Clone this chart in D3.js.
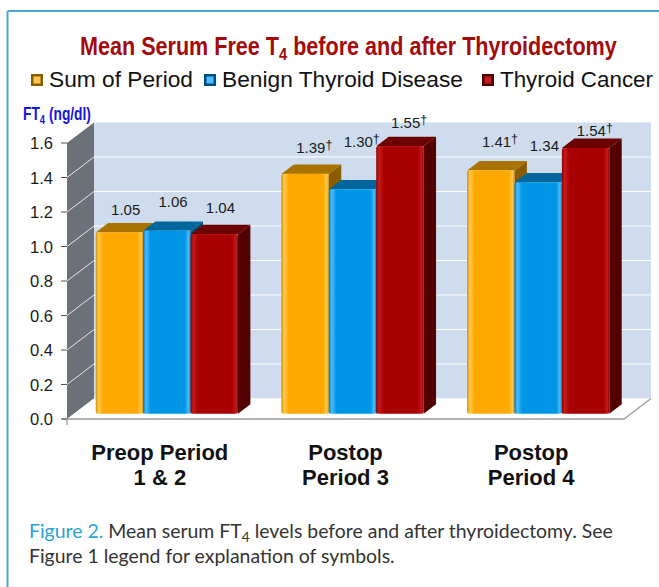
<!DOCTYPE html>
<html>
<head>
<meta charset="utf-8">
<script src="https://cdn.jsdelivr.net/npm/d3@7"></script>
<style>
  html, body { margin: 0; padding: 0; background: #ffffff; }
  svg { display: block; }
</style>
</head>
<body>
<script>
// ---------------- data ----------------
const categories = ["Preop Period|1 & 2", "Postop|Period 3", "Postop|Period 4"];
const seriesNames = ["Sum of Period", "Benign Thyroid Disease", "Thyroid Cancer"];
const sumOfPeriod = [1.05, 1.39, 1.41];
const benignThyroid = [1.06, 1.30, 1.34];
const thyroidCancer = [1.04, 1.55, 1.54];
const sumMarks = ["", "†", "†"];
const benignMarks = ["", "†", ""];
const cancerMarks = ["", "†", "†"];
const yTickValues = [0, 0.2, 0.4, 0.6, 0.8, 1.0, 1.2, 1.4, 1.6];
const yTickLabels = ["0.0", "0.2", "0.4", "0.6", "0.8", "1.0", "1.2", "1.4", "1.6"];

// layout-only: vertical gap between bar top and its value label [category][series]
const labelGap = [[8, 14, 12], [11, 33, 9], [14, 22, 3]];

const W = 659, H = 587;
const svg = d3.select("body").append("svg").attr("width", W).attr("height", H);

const seriesValues = [sumOfPeriod, benignThyroid, thyroidCancer];
const seriesMarks = [sumMarks, benignMarks, cancerMarks];
const palette = [
  {light: "#ffc94d", base: "#ffa800", dark: "#d88e00", top: "#a87300", side: "#8a5c00"},
  {light: "#4cbcff", base: "#0095e5", dark: "#0078bd", top: "#00669b", side: "#004f7a"},
  {light: "#c81a1a", base: "#a80000", dark: "#8a0000", top: "#6c0000", side: "#520000"}
];

// frame
svg.append("line").attr("x1", 7.5).attr("x2", 7.5).attr("y1", 11).attr("y2", H)
  .attr("stroke", "#49a7d8").attr("stroke-width", 2);
svg.append("line").attr("x1", 7.5).attr("x2", W).attr("y1", 11).attr("y2", 11)
  .attr("stroke", "#49a7d8").attr("stroke-width", 2);

// gradients
const defs = svg.append("defs");
palette.forEach((p, i) => {
  const g = defs.append("linearGradient").attr("id", "front" + i)
    .attr("x1", 0).attr("x2", 1).attr("y1", 0).attr("y2", 0);
  g.append("stop").attr("offset", "0%").attr("stop-color", p.dark);
  g.append("stop").attr("offset", "6%").attr("stop-color", p.light);
  g.append("stop").attr("offset", "16%").attr("stop-color", p.base);
  g.append("stop").attr("offset", "88%").attr("stop-color", p.base);
  g.append("stop").attr("offset", "96%").attr("stop-color", p.light);
  g.append("stop").attr("offset", "100%").attr("stop-color", p.dark);
});

// ---------------- scales ----------------
const DX = 27, DY = -20.5;           // wall depth projection
const zFront = 0.26, zBack = 0.72;   // bar depth slot
const x = d3.scaleBand().domain(categories).range([67, 624]).paddingInner(0.234).paddingOuter(0.117);
const xs = d3.scaleBand().domain(seriesNames).range([0, x.bandwidth()]);
const y = d3.scaleLinear().domain([0, 1.6]).range([419, 143]);

const backL = 67 + DX, backR = 624 + DX;

// back wall
svg.append("rect")
  .attr("x", backL).attr("y", y(1.6) + DY)
  .attr("width", backR - backL).attr("height", y(0) - y(1.6))
  .attr("fill", "#cfdcee");

// left side wall
svg.append("path")
  .attr("d", `M67,${y(1.6)} L${backL},${y(1.6) + DY} L${backL},${y(0) + DY} L67,${y(0)} Z`)
  .attr("fill", "#6b7079");

// gridlines
const inner = yTickValues.filter(v => v > 0 && v < 1.6);
svg.append("g").selectAll("line").data(inner).join("line")
  .attr("x1", backL).attr("x2", backR)
  .attr("y1", d => y(d) + DY).attr("y2", d => y(d) + DY)
  .attr("stroke", "#ffffff").attr("stroke-width", 1.2);
svg.append("g").selectAll("line").data(inner).join("line")
  .attr("x1", 67).attr("x2", backL)
  .attr("y1", d => y(d)).attr("y2", d => y(d) + DY)
  .attr("stroke", "#e8e8e8").attr("stroke-width", 1);

// floor
svg.append("path")
  .attr("d", `M67,${y(0)} L${backL},${y(0) + DY} L${backR},${y(0) + DY} L624,${y(0)} Z`)
  .attr("fill", "#ffffff");
svg.append("path")
  .attr("d", `M62,${y(0)} L624,${y(0)} L${backR},${y(0) + DY}`)
  .attr("fill", "none").attr("stroke", "#9a9a9a").attr("stroke-width", 1.3);
svg.append("line").attr("x1", 67).attr("x2", 67).attr("y1", y(0)).attr("y2", y(0) + 6)
  .attr("stroke", "#9a9a9a").attr("stroke-width", 1.3);

// y ticks and labels
const yAxis = svg.append("g");
yAxis.selectAll("line").data(yTickValues).join("line")
  .attr("x1", 61).attr("x2", 67)
  .attr("y1", d => y(d)).attr("y2", d => y(d))
  .attr("stroke", "#555").attr("stroke-width", 1);
yAxis.selectAll("text").data(yTickValues).join("text")
  .attr("x", 53).attr("y", d => y(d) + 6)
  .attr("text-anchor", "end")
  .attr("font-family", "Liberation Sans, Arial, sans-serif")
  .attr("font-size", 16.5).attr("fill", "#1a1a1a")
  .text((d, i) => yTickLabels[i]);

// ---------------- bars ----------------
const ddx = DX * (zBack - zFront), ddy = DY * (zBack - zFront);
const barsG = svg.append("g");
const labelsG = svg.append("g");
categories.forEach((c, ci) => {
  seriesNames.forEach((s, si) => {
    const v = seriesValues[si][ci];
    const p = palette[si];
    const xl = x(c) + xs(s) + DX * zFront;
    const w = xs.bandwidth();
    const xr = xl + w;
    const yt = y(v) + DY * zFront;
    const yb = y(0) + DY * zFront;
    const g = barsG.append("g");
    // side face
    g.append("path")
      .attr("d", `M${xr},${yt} L${xr + ddx},${yt + ddy} L${xr + ddx},${yb + ddy} L${xr},${yb} Z`)
      .attr("fill", p.side);
    // top face
    g.append("path")
      .attr("d", `M${xl},${yt} L${xr},${yt} L${xr + ddx},${yt + ddy} L${xl + ddx},${yt + ddy} Z`)
      .attr("fill", p.top);
    g.append("line")
      .attr("x1", xl + 2).attr("x2", xr - 1).attr("y1", yt + 0.5).attr("y2", yt + 0.5)
      .attr("stroke", p.light).attr("stroke-width", 1.2);
    // front face
    g.append("rect")
      .attr("x", xl).attr("y", yt).attr("width", w).attr("height", yb - yt)
      .attr("rx", 2).attr("fill", `url(#front${si})`);
    // value label
    const t = labelsG.append("text")
      .attr("x", xl + w / 2 + ddx / 2 + (seriesMarks[si][ci] ? 3 : 0))
      .attr("y", yt + ddy - labelGap[ci][si])
      .attr("text-anchor", "middle")
      .attr("font-family", "Liberation Sans, Arial, sans-serif")
      .attr("font-size", 15).attr("fill", "#1a1a1a");
    t.append("tspan").text(v.toFixed(2));
    if (seriesMarks[si][ci]) {
      t.append("tspan").attr("dy", -4).attr("font-size", 12.5).text(seriesMarks[si][ci]);
    }
  });
});

// category labels
categories.forEach(c => {
  const lines = c.split("|");
  const t = svg.append("text")
    .attr("x", x(c) + x.bandwidth() / 2)
    .attr("y", 460)
    .attr("text-anchor", "middle")
    .attr("font-family", "Liberation Sans, Arial, sans-serif")
    .attr("font-weight", "bold").attr("font-size", 22).attr("fill", "#111");
  lines.forEach((l, i) => {
    t.append("tspan").attr("x", x(c) + x.bandwidth() / 2).attr("dy", i === 0 ? 0 : 25).text(l);
  });
});

// helper: fit text horizontally to a target width
function fitX(g, textSel, x0, baseline, target) {
  const w = textSel.node().getComputedTextLength();
  const k = target / w;
  g.attr("transform", `translate(${x0},${baseline}) scale(${k},1)`);
  return k;
}

// title
const titleG = svg.append("g");
const title = titleG.append("text")
  .attr("x", 0).attr("y", 0)
  .attr("font-family", "Liberation Sans Narrow, Arial Narrow, Liberation Sans, Arial, sans-serif")
  .attr("font-weight", "bold").attr("font-size", 25).attr("fill", "#a30b0b");
title.append("tspan").text("Mean Serum Free T");
title.append("tspan").attr("dy", 5).attr("font-size", 17).text("4");
title.append("tspan").attr("dy", -5).text(" before and after Thyroidectomy");
fitX(titleG, title, 80, 55, 537);

// legend
const legendX = [31, 204, 482];
const legendTextX = [49, 222, 500];
const legendW = [144, 241, 153];
seriesNames.forEach((s, i) => {
  const p = palette[i];
  svg.append("rect").attr("x", legendX[i]).attr("y", 74).attr("width", 12).attr("height", 12)
    .attr("fill", p.side);
  svg.append("rect").attr("x", legendX[i] + 2.5).attr("y", 76.5).attr("width", 7).attr("height", 7)
    .attr("fill", p.light);
  const g = svg.append("g");
  const t = g.append("text").attr("x", 0).attr("y", 0)
    .attr("font-family", "Liberation Sans, Arial, sans-serif")
    .attr("font-size", 22.5).attr("fill", "#111").text(s);
  fitX(g, t, legendTextX[i], 87, legendW[i]);
});

// y axis title
const ytG = svg.append("g");
const yt = ytG.append("text").attr("x", 0).attr("y", 0)
  .attr("font-family", "Liberation Sans Narrow, Arial Narrow, Liberation Sans, Arial, sans-serif")
  .attr("font-weight", "bold").attr("font-size", 17.5).attr("fill", "#1515e0");
yt.append("tspan").text("FT");
yt.append("tspan").attr("dy", 4).attr("font-size", 12).text("4");
yt.append("tspan").attr("dy", -4).text(" (ng/dl)");
fitX(ytG, yt, 23, 120, 68);

// caption
const capFont = "Lato, Open Sans, sans-serif";
const cap1G = svg.append("g");
const cap1 = cap1G.append("text").attr("x", 0).attr("y", 0)
  .attr("font-family", capFont).attr("font-size", 18.5).attr("fill", "#333");
cap1.append("tspan").attr("fill", "#2aa3d6").text("Figure 2.");
cap1.append("tspan").text(" Mean serum FT");
cap1.append("tspan").attr("dy", 4).attr("font-size", 13).text("4");
cap1.append("tspan").attr("dy", -4).text(" levels before and after thyroidectomy. See");
const k = fitX(cap1G, cap1, 29, 538, 584);
const cap2G = svg.append("g").attr("transform", `translate(29,562.5) scale(${k},1)`);
cap2G.append("text").attr("x", 0).attr("y", 0)
  .attr("font-family", capFont).attr("font-size", 18.5).attr("fill", "#333")
  .text("Figure 1 legend for explanation of symbols.");
</script>
</body>
</html>
